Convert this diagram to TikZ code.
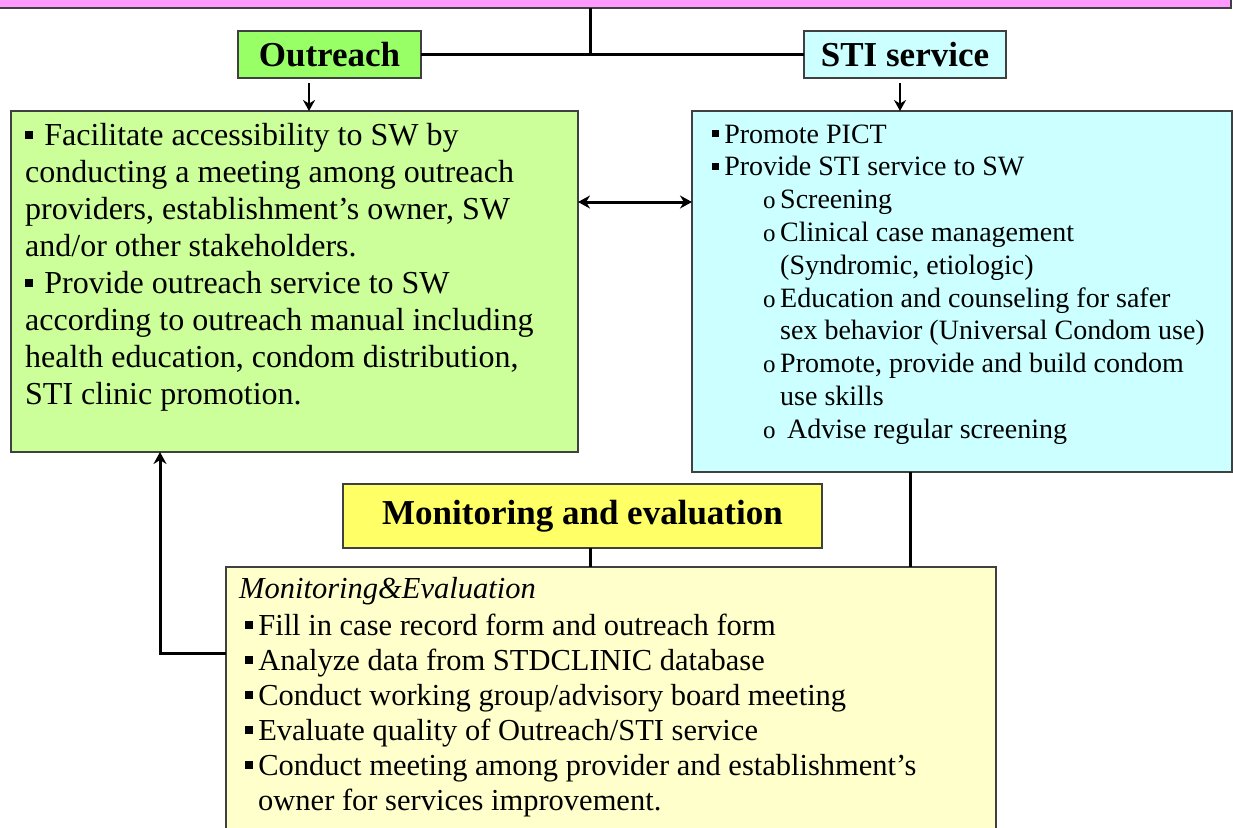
\documentclass[tikz,border=0pt]{standalone}
\usepackage{fontspec}
\setmainfont{Liberation Serif}
\usetikzlibrary{arrows.meta}
\definecolor{barpink}{HTML}{FF99FF}
\definecolor{titlegreen}{HTML}{99FF66}
\definecolor{boxgreen}{HTML}{CCFF99}
\definecolor{boxcyan}{HTML}{CCFFFF}
\definecolor{titleyellow}{HTML}{FFFF66}
\definecolor{boxyellow}{HTML}{FFFFCC}
\newcommand{\bul}[1]{\makebox[#1][l]{\rule[0.2em]{0.25em}{0.25em}}}
\newcommand{\sub}{\hspace*{51pt}\makebox[17pt][l]{\fontsize{25}{25}\selectfont o}}

\begin{document}
\begin{tikzpicture}[x=1pt,y=-1pt,
	panel/.style={draw=black!75, line width=1.2pt, anchor=north west, inner sep=0pt, outer sep=0pt},
	heading/.style={panel, font=\fontsize{35}{40}\selectfont\bfseries},
	link/.style={line width=3pt},
	arr/.style={line width=2pt, -{Stealth[length=11pt,width=12pt]}},
	words/.style={anchor=base west, inner sep=0pt}]
	\useasboundingbox (0,0) rectangle (1233,827);
	% boxes
	\node[panel, fill=barpink, minimum width=1236pt, minimum height=28pt] (top) at (-5,-20) {};
	\node[heading, fill=titlegreen, minimum width=183pt, minimum height=47pt] (outreach) at (238,31) {Outreach};
	\node[heading, fill=boxcyan, minimum width=202pt, minimum height=47pt] (sti) at (804,31) {STI service};
	\node[panel, fill=boxgreen, minimum width=567pt, minimum height=341pt] (green) at (11,111) {};
	\node[panel, fill=boxcyan, minimum width=540pt, minimum height=361pt] (blue) at (692,111) {};
	\node[heading, fill=titleyellow, minimum width=479pt, minimum height=64pt] (mtitle) at (343,484) {Monitoring and evaluation};
	\node[panel, fill=boxyellow, minimum width=770pt, minimum height=300pt] (me) at (226,567) {};
	% texts
	\node[words] (gtext) at (25,145) {\parbox[t]{700pt}{\fontsize{32}{37}\selectfont
		\bul{0.6em}Facilitate accessibility to SW by\\
		conducting a meeting among outreach\\
		providers, establishment’s owner, SW\\
		and/or other stakeholders.\\
		\bul{0.6em}Provide outreach service to SW\\
		according to outreach manual including\\
		health education, condom distribution,\\
		STI clinic promotion.}};
	\node[words] (btext) at (712,143) {\parbox[t]{700pt}{\fontsize{28}{32.8}\selectfont
		\bul{0.43em}Promote PICT\\
		\bul{0.43em}Provide STI service to SW\\
		\sub Screening\\
		\sub Clinical case management\\
		\hspace*{68pt}(Syndromic, etiologic)\\
		\sub Education and counseling for safer\\
		\hspace*{68pt}sex behavior (Universal Condom use)\\
		\sub Promote, provide and build condom\\
		\hspace*{68pt}use skills\\
		\sub\ Advise regular screening}};
	\node[words] (mtext) at (239,598) {\parbox[t]{900pt}{\fontsize{30.5}{35}\selectfont
		\textit{Monitoring\&Evaluation}\\[2pt]
		\hspace*{6pt}\bul{0.43em}Fill in case record form and outreach form\\
		\hspace*{6pt}\bul{0.43em}Analyze data from STDCLINIC database\\
		\hspace*{6pt}\bul{0.43em}Conduct working group/advisory board meeting\\
		\hspace*{6pt}\bul{0.43em}Evaluate quality of Outreach/STI service\\
		\hspace*{6pt}\bul{0.43em}Conduct meeting among provider and establishment’s\\
		\hspace*{19pt}owner for services improvement.}};
	% connectors
	\coordinate (hub) at (outreach.east -| 590,0);
	\draw[link] (outreach.east) -- (sti.west);
	\draw[link] (hub |- top.south) -- (hub);
	\draw[arr, shorten <=5pt] (outreach.south -| 309,0) -- (green.north -| 309,0);
	\draw[arr, shorten <=5pt] (sti.south -| 900,0) -- (blue.north -| 900,0);
	\draw[link, {Stealth[length=12pt,width=13pt]}-{Stealth[length=12pt,width=13pt]}] (green.east |- 0,202) -- (blue.west |- 0,202);
	\draw[link] (mtitle.south -| hub) -- (me.north -| hub);
	\draw[link] (blue.south -| 910,0) -- (me.north -| 910,0);
	\draw[link, -{Stealth[length=12pt,width=13pt]}] (me.west |- 0,653) -| (green.south -| 160,0);
\end{tikzpicture}
\end{document}
